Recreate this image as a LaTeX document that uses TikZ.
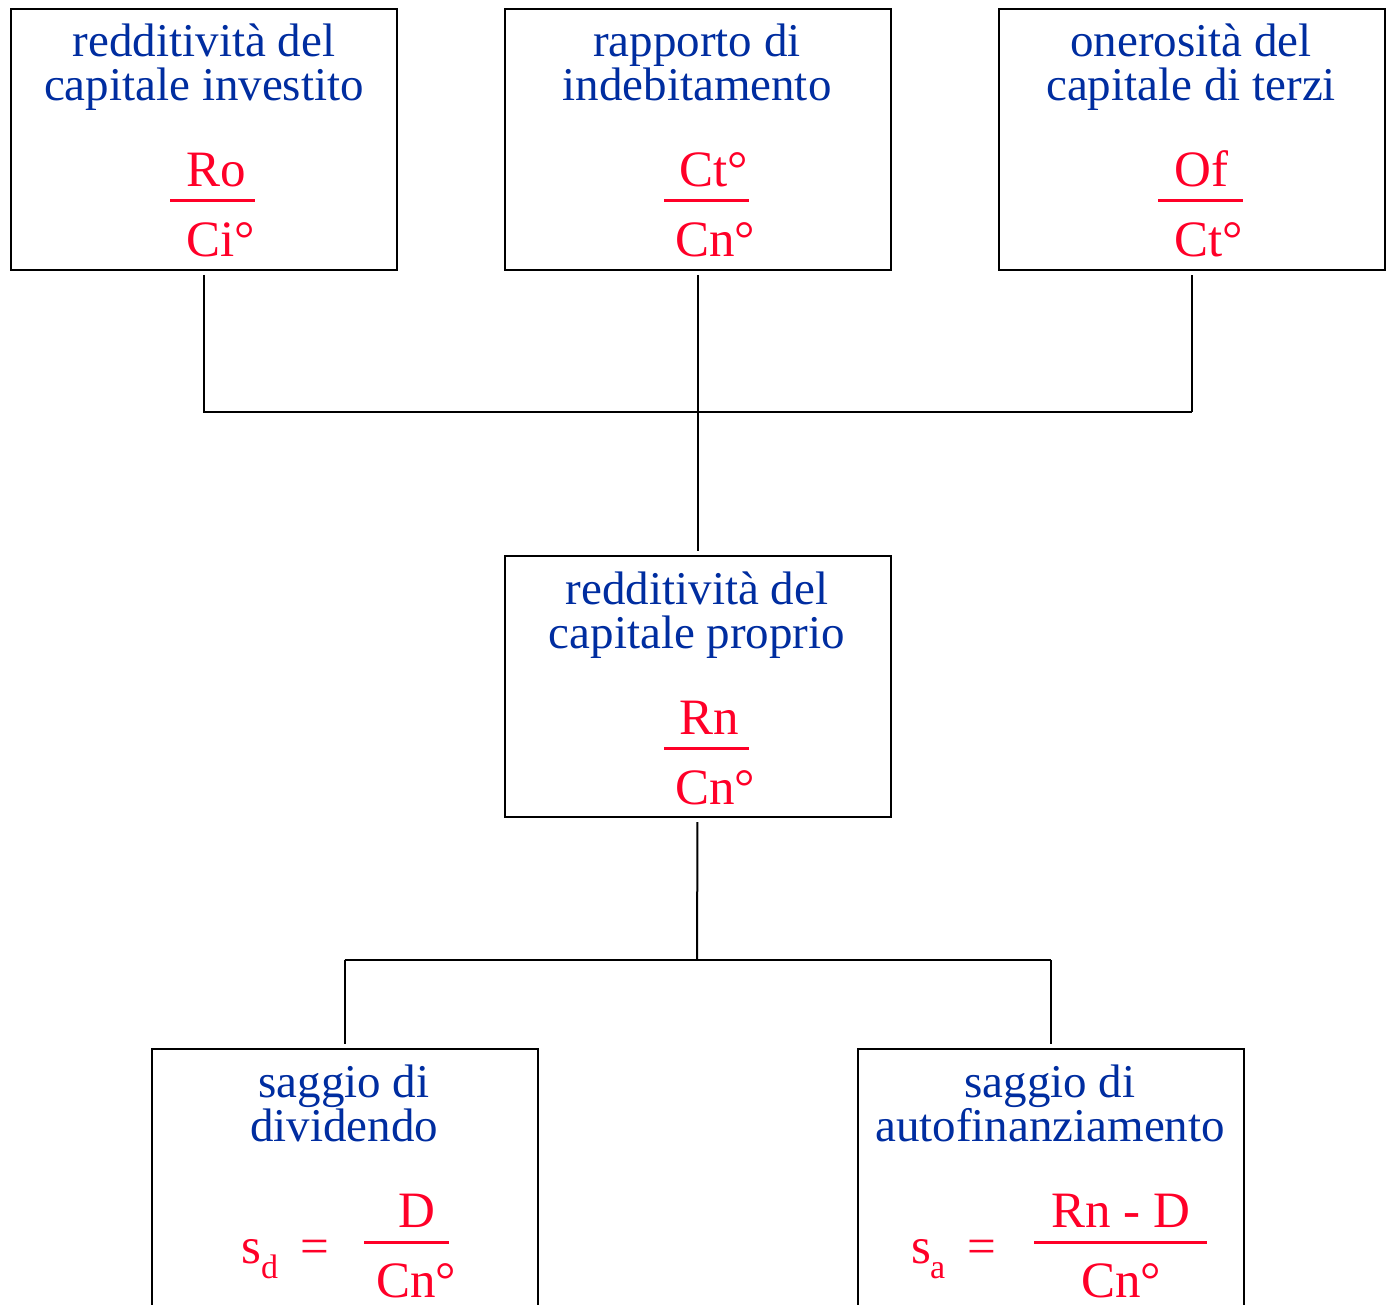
\documentclass[tikz,border=0pt]{standalone}
\usepackage{fontspec}
\setmainfont{Liberation Serif}
\definecolor{lblue}{RGB}{0,45,160}
\definecolor{lred}{RGB}{255,0,40}
\tikzset{
  boxnode/.style={draw=black, line width=2pt, minimum width=386pt, minimum height=261pt, inner sep=0pt},
  title/.style={anchor=base, inner sep=0pt, text=lblue, font=\fontsize{47}{47}\selectfont},
  frac/.style={anchor=base west, inner sep=0pt, text=lred, font=\fontsize{51}{51}\selectfont},
  subs/.style={anchor=base west, inner sep=0pt, text=lred, font=\fontsize{34}{34}\selectfont},
  bar/.style={draw=lred, line width=3pt},
  conn/.style={draw=black, line width=2pt},
}
\begin{document}
\begin{tikzpicture}[x=1pt,y=-1pt]
\useasboundingbox (0,0) rectangle (1389,1305);
\clip (0,0) rectangle (1389,1305);
% boxes
\node[boxnode] (tl) at (204,139.5) {};
\node[boxnode] (tm) at (697.5,139.5) {};
\node[boxnode] (tr) at (1191.5,139.5) {};
\node[boxnode] (mid) at (697.5,686.5) {};
\node[boxnode] (bl) at (344.5,1179.5) {};
\node[boxnode] (br) at (1050.5,1179.5) {};
% junctions
\coordinate (jt) at (697,412);
\coordinate (jb) at (697,960);
% top-left
\node[title] (tl1) at (204,57) {redditività del};
\node[title] (tl2) at (204,101) {capitale investito};
\node[frac] (tln) at (186,187) {Ro};
\draw[bar] (170,201) -- (255,201);
\node[frac] (tld) at (186,257) {Ci°};
% top-middle
\node[title] (tm1) at (697,57) {rapporto di};
\node[title] (tm2) at (697,101) {indebitamento};
\node[frac] (tmn) at (679,187) {Ct°};
\draw[bar] (664,201) -- (749,201);
\node[frac] (tmd) at (675,257) {Cn°};
% top-right
\node[title] (tr1) at (1191,57) {onerosità del};
\node[title] (tr2) at (1191,101) {capitale di terzi};
\node[frac] (trn) at (1174,187) {Of};
\draw[bar] (1158,201) -- (1243,201);
\node[frac] (trd) at (1174,257) {Ct°};
% middle
\node[title] (m1) at (697,604) {redditività del};
\node[title] (m2) at (697,648) {capitale proprio};
\node[frac] (mn) at (679,734) {Rn};
\draw[bar] (664,748) -- (749,748);
\node[frac] (md) at (675,804) {Cn°};
% bottom-left
\node[title] (bl1) at (344,1097) {saggio di};
\node[title] (bl2) at (344,1141) {dividendo};
\node[frac] (bls) at (241,1263) {s};
\node[subs] (blsub) at (261,1278) {d};
\node[frac] (bleq) at (300,1263) {=};
\node[frac] (bln) at (398,1227) {D};
\draw[bar] (364,1242) -- (449,1242);
\node[frac] (bld) at (376,1297) {Cn°};
% bottom-right
\node[title] (br1) at (1050,1097) {saggio di};
\node[title] (br2) at (1050,1141) {autofinanziamento};
\node[frac] (brs) at (911,1263) {s};
\node[subs] (brsub) at (930,1278) {a};
\node[frac] (breq) at (967,1263) {=};
\node[frac] (brn) at (1051,1227) {Rn - D};
\draw[bar] (1034,1242) -- (1207,1242);
\node[frac] (brd) at (1081,1297) {Cn°};
% connectors
\draw[conn, shorten <=4pt] (tl.south) -- (tl.south |- jt) -- (tr.south |- jt);
\draw[conn, shorten >=4pt] (tr.south |- jt) -- (tr.south);
\draw[conn, shorten <=4pt, shorten >=4pt] (tm.south) -- (mid.north);
\draw[conn, shorten <=4pt] (mid.south) -- (jb);
\draw[conn] (bl.north |- jb) -- (br.north |- jb);
\draw[conn, shorten >=4pt] (bl.north |- jb) -- (bl.north);
\draw[conn, shorten >=4pt] (br.north |- jb) -- (br.north);
\end{tikzpicture}
\end{document}
